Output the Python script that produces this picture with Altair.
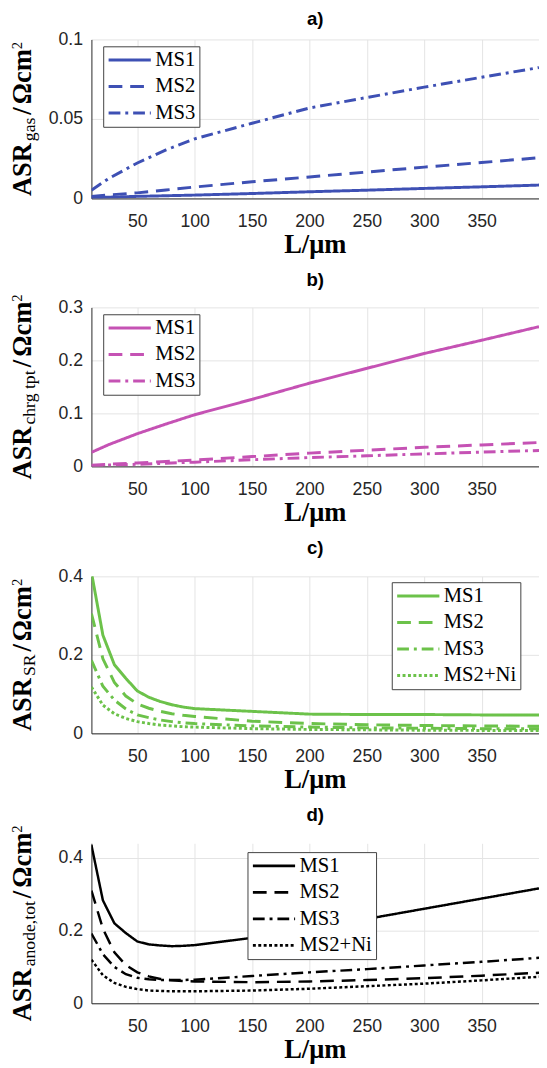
import altair as alt
import pandas as pd

# ---------------- data ----------------
L_ab = [10, 25, 50, 75, 100, 150, 200, 250, 300, 350, 400]
L_cd = [10, 20, 30, 40, 50, 60, 70, 80, 90, 100, 150, 200, 250, 300, 350, 400]

gas_MS1 = [0.0004, 0.0008, 0.0013, 0.0017, 0.0021, 0.0031, 0.0042, 0.0052, 0.0063, 0.0073, 0.0084]
gas_MS2 = [0.0012, 0.0022, 0.0035, 0.0053, 0.0072, 0.0105, 0.0135, 0.0166, 0.0197, 0.0226, 0.0256]
gas_MS3 = [0.0052, 0.0125, 0.0223, 0.0305, 0.0375, 0.0473, 0.0569, 0.0635, 0.0700, 0.0762, 0.0823]

ct_MS1 = [0.0265, 0.041, 0.0617, 0.080, 0.0975, 0.1265, 0.157, 0.185, 0.213, 0.238, 0.2636]
ct_MS2 = [0.002, 0.004, 0.0065, 0.0093, 0.012, 0.0185, 0.025, 0.0305, 0.036, 0.0405, 0.045]
ct_MS3 = [0.001, 0.0025, 0.004, 0.006, 0.008, 0.0125, 0.0167, 0.020, 0.0235, 0.027, 0.030]

sr_MS1 = [0.41, 0.25, 0.175, 0.14, 0.108, 0.092, 0.081, 0.073, 0.067, 0.063, 0.056, 0.049, 0.048, 0.048, 0.047, 0.047]
sr_MS2 = [0.305, 0.19, 0.13, 0.095, 0.075, 0.064, 0.056, 0.05, 0.046, 0.043, 0.031, 0.025, 0.022, 0.02, 0.019, 0.018]
sr_MS3 = [0.186, 0.12, 0.085, 0.062, 0.047, 0.04, 0.034, 0.03, 0.027, 0.025, 0.019, 0.016, 0.014, 0.013, 0.012, 0.012]
sr_Ni = [0.118, 0.072, 0.05, 0.038, 0.03, 0.025, 0.021, 0.019, 0.017, 0.016, 0.012, 0.01, 0.009, 0.008, 0.0075, 0.007]

tot_MS1 = [0.435, 0.283, 0.22, 0.193, 0.17, 0.162, 0.159, 0.157, 0.158, 0.16, 0.18, 0.205, 0.232, 0.26, 0.288, 0.316]
tot_MS2 = [0.31, 0.205, 0.14, 0.105, 0.085, 0.074, 0.067, 0.063, 0.061, 0.06, 0.058, 0.06, 0.064, 0.069, 0.076, 0.084]
tot_MS3 = [0.192, 0.135, 0.1, 0.08, 0.07, 0.066, 0.064, 0.064, 0.064, 0.065, 0.075, 0.085, 0.094, 0.104, 0.114, 0.125]
tot_Ni = [0.12, 0.077, 0.056, 0.045, 0.039, 0.035, 0.034, 0.033, 0.033, 0.033, 0.035, 0.04, 0.047, 0.054, 0.063, 0.073]

series3 = ["MS1", "MS2", "MS3"]
series4 = ["MS1", "MS2", "MS3", "MS2+Ni"]
x_ticks = [50, 100, 150, 200, 250, 300, 350]
panel_titles = ["a)", "b)", "c)", "d)"]
subscripts = ["gas", "chrg tpt", "SR", "anode,tot"]
x_title = "L/μm"

DASH = {"MS1": [1, 0], "MS2": [14, 8], "MS3": [12, 5, 3, 5], "MS2+Ni": [3, 2.5]}

W = 456
SERIF = "Liberation Serif"

BOLD = {"A": .722, "S": .556, "R": .722, "/": .278, "Ω": .768, "c": .444, "m": .833}
REG = {"g": .5, "a": .444, "s": .389, "c": .444, "h": .5, "r": .333, "t": .278, "p": .5,
       " ": .25, "S": .556, "R": .667, "n": .5, "o": .5, "d": .5, "e": .444, ",": .25, "2": .5}


def tw(s, table, size):
    return sum(table.get(ch, 0.5) for ch in s) * size


def long_df(L, names, arrays):
    rows = []
    for n, vals in zip(names, arrays):
        for l, v in zip(L, vals):
            rows.append({"L": l, "v": v, "s": n})
    return pd.DataFrame(rows)


def text_layer(t, x, y, size, weight, angle=0, align="left"):
    return alt.Chart(pd.DataFrame({"t": [t]})).mark_text(
        angle=angle, align=align, baseline="alphabetic",
        font=SERIF, fontSize=size, fontWeight=weight, color="black"
    ).encode(x=alt.value(x), y=alt.value(y), text="t:N")


def ytitle(sub, H, XB=-62, M=27, S=18, SUP=15):
    parts = [("ASR", BOLD, M, "bold", 0), (sub, REG, S, "normal", 5),
             ("/", BOLD, M, "bold", 0), ("Ωcm", BOLD, M, "bold", 0),
             ("2", REG, SUP, "normal", -9)]
    gaps = [2, 3, 3, 1]
    widths = [tw(t, tab, sz) for t, tab, sz, _, _ in parts]
    total = sum(widths) + sum(gaps)
    y = H / 2 + total / 2
    layers = []
    for i, (t, tab, sz, wt, dx) in enumerate(parts):
        layers.append(text_layer(t, XB + dx, y, sz, wt, angle=270))
        y -= widths[i] + (gaps[i] if i < len(gaps) else 0)
    return layers


def panel(df, names, color, ymax, yvals, title, toff, sub, lx, ly, H, sw):
    lines = alt.Chart(df).mark_line(clip=True, strokeWidth=sw, color=color).encode(
        x=alt.X("L:Q", scale=alt.Scale(domain=[10, 400], nice=False, zero=False),
                axis=alt.Axis(values=x_ticks, title=None, format="d")),
        y=alt.Y("v:Q", scale=alt.Scale(domain=[0, ymax], nice=False),
                axis=alt.Axis(values=yvals, title=None, format="~g")),
        strokeDash=alt.StrokeDash(
            "s:N",
            scale=alt.Scale(domain=names, range=[DASH[n] for n in names]),
            legend=alt.Legend(title=None, orient="none", legendX=lx, legendY=ly,
                              symbolType="stroke", symbolSize=1849, symbolStrokeWidth=3,
                              symbolStrokeColor=color, labelFont=SERIF,
                              labelFontWeight="normal",
                              labelFontSize=21, labelColor="black", labelOffset=3,
                              strokeColor="#404040", fillColor="white", padding=4,
                              rowPadding=6, clipHeight=20),
        ),
    )
    xt = text_layer(x_title, W / 2, H + 56, 27, "bold", align="center")
    return alt.layer(lines, xt, *ytitle(sub, H)).properties(
        width=W, height=H,
        title=alt.TitleParams(title, font="Liberation Sans", fontSize=19, fontWeight="bold",
                              anchor="middle", offset=toff, frame="group", color="black"),
    )


pa = panel(long_df(L_ab, series3, [gas_MS1, gas_MS2, gas_MS3]), series3, "#3E50B4",
           0.1, [0, 0.05, 0.1], panel_titles[0], 2, subscripts[0], 12, 7, 162, 3)
pb = panel(long_df(L_ab, series3, [ct_MS1, ct_MS2, ct_MS3]), series3, "#C552B4",
           0.3, [0, 0.1, 0.2, 0.3], panel_titles[1], 4, subscripts[1], 12, 7, 162, 3)
pc = panel(long_df(L_cd, series4, [sr_MS1, sr_MS2, sr_MS3, sr_Ni]), series4, "#6CC24A",
           0.4, [0, 0.2, 0.4], panel_titles[2], 10, subscripts[2], 306, 6, 160, 3)
pdd = panel(long_df(L_cd, series4, [tot_MS1, tot_MS2, tot_MS3, tot_Ni]), series4, "black",
            0.44, [0, 0.2, 0.4], panel_titles[3], 0, subscripts[3], 159, 9, 163, 2.5)

chart = alt.vconcat(pa, pb, pc, pdd, spacing=13).resolve_scale(
    strokeDash="independent", x="independent", y="independent"
).resolve_legend(strokeDash="independent").properties(
    padding={"left": 0, "top": -8, "right": 0, "bottom": 0}
).configure_view(stroke=None).configure_axis(
    labelFont="Liberation Sans", labelFontSize=18, labelColor="#262626",
    domainColor="#262626", domainWidth=1, gridColor="#e3e3e3", gridWidth=1,
    ticks=False, tickSize=0,
).configure_axisX(labelPadding=15).configure_axisY(
    labelPadding=9
).configure_legend(labelFont=SERIF, labelFontSize=21)

chart.save("out.html", embed_options={"renderer": "svg", "actions": False})
